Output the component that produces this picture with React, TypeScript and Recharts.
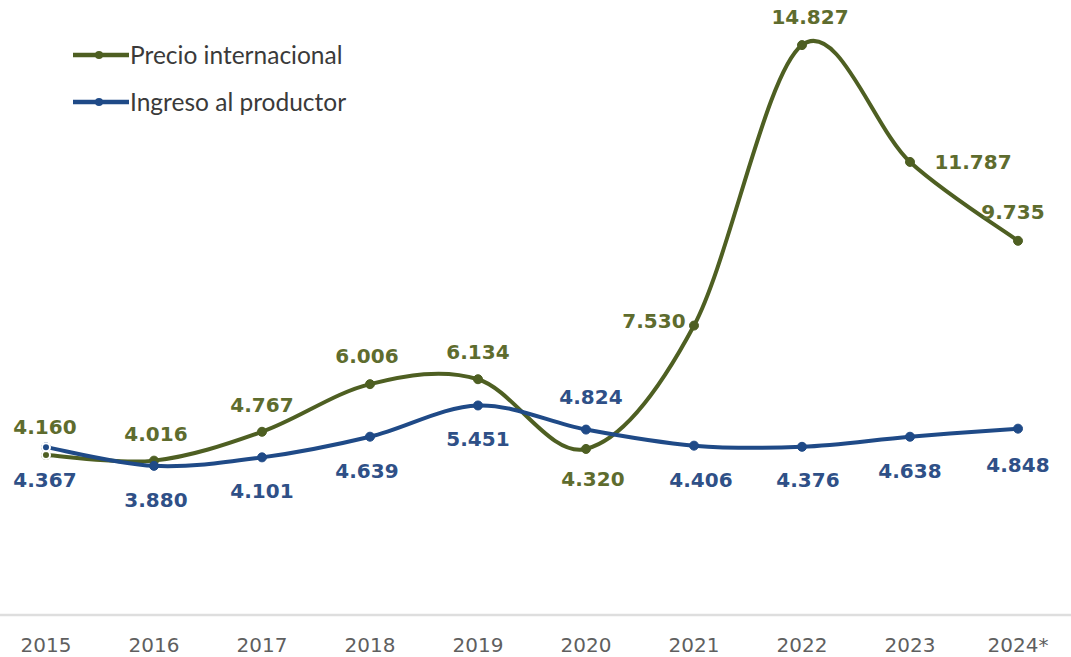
import React from "react";
import { LineChart, Line, XAxis, YAxis, LabelList, Legend } from "recharts";

const years = ["2015", "2016", "2017", "2018", "2019", "2020", "2021", "2022", "2023", "2024*"];
const precioInternacional = [4.16, 4.016, 4.767, 6.006, 6.134, 4.32, 7.53, 14.827, 11.787, 9.735];
const ingresoProductor = [4.367, 3.88, 4.101, 4.639, 5.451, 4.824, 4.406, 4.376, 4.638, 4.848];

const data = years.map((year, i) => ({
  year,
  precio: precioInternacional[i],
  ingreso: ingresoProductor[i],
}));

// label placement (dx, dy from the point), one per year
const precioLabelOffsets = [
  [-1, -28], [2, -27], [0, -27], [-3, -28], [0, -27],
  [7, 30], [-40, -5], [8, -28], [63, 0], [-5, -29],
];
const ingresoLabelOffsets = [
  [-1, 33], [2, 34], [0, 34], [-3, 34], [0, 34],
  [5, -33], [7, 34], [6, 33], [0, 34], [0, 36],
];

const GREEN = "#4e5f22";
const GREEN_TEXT = "#5e6c2e";
const BLUE = "#1f4a87";
const BLUE_TEXT = "#2f5087";

// Excel-like smoothed line (Catmull-Rom style bezier)
function smoothCurve(context: any) {
  let xs: number[] = [];
  let ys: number[] = [];
  return {
    areaStart() {},
    areaEnd() {},
    lineStart() {
      xs = [];
      ys = [];
    },
    point(x: number, y: number) {
      xs.push(+x);
      ys.push(+y);
    },
    lineEnd() {
      const n = xs.length;
      if (!n) return;
      const t = 1 / 6;
      context.moveTo(xs[0], ys[0]);
      for (let i = 0; i < n - 1; i++) {
        const a = Math.max(i - 1, 0);
        const d = Math.min(i + 2, n - 1);
        context.bezierCurveTo(
          xs[i] + (xs[i + 1] - xs[a]) * t,
          ys[i] + (ys[i + 1] - ys[a]) * t,
          xs[i + 1] - (xs[d] - xs[i]) * t,
          ys[i + 1] - (ys[d] - ys[i]) * t,
          xs[i + 1],
          ys[i + 1]
        );
      }
    },
  };
}

const fmt = (v: number) => v.toFixed(3);

const makeLabel = (offsets: number[][], color: string) => (props: any) => {
  const { x, y, value, index } = props;
  const [dx, dy] = offsets[index] || [0, -25];
  return (
    <text
      x={x + dx}
      y={y + dy}
      textAnchor="middle"
      dominantBaseline="central"
      fill={color}
      fontSize={20}
      fontWeight="bold"
      fontFamily="DejaVu Sans, Verdana, sans-serif"
    >
      {fmt(value)}
    </text>
  );
};

const legendItems = [
  { name: "Precio internacional", color: GREEN },
  { name: "Ingreso al productor", color: BLUE },
];

const renderLegend = () => (
  <div>
    {legendItems.map((item) => (
      <div key={item.name} style={{ display: "flex", alignItems: "center", height: 47 }}>
        <svg width={58} height={12}>
          <line x1={1} y1={6} x2={57} y2={6} stroke={item.color} strokeWidth={4.5} />
          <circle cx={27} cy={6} r={4} fill={item.color} />
        </svg>
        <span style={{ fontFamily: "Lato, sans-serif", fontSize: 24.5, color: "#3a3a3a", lineHeight: "26px" }}>
          {item.name}
        </span>
      </div>
    ))}
  </div>
);

export default function App() {
  return (
    <div style={{ position: "absolute", left: 0, top: 0, background: "#fff" }}>
      <LineChart width={1071} height={657} data={data} margin={{ top: 0, right: 0, bottom: 0, left: 0 }}>
        <XAxis
          dataKey="year"
          height={42}
          padding={{ left: 46, right: 53 }}
          axisLine={{ stroke: "#dedede", strokeWidth: 2.5 }}
          tickLine={false}
          tickSize={0}
          tickMargin={23}
          tick={{ fill: "#5f5f5f", fontSize: 20, fontFamily: "DejaVu Sans, Verdana, sans-serif" }}
          interval={0}
        />
        <YAxis hide domain={[0, 16]} />
        <Legend
          layout="horizontal"
          verticalAlign="middle"
          align="center"
          wrapperStyle={{ left: 72, top: 31, width: 360 }}
          content={renderLegend}
        />
        <Line
          type={smoothCurve as any}
          dataKey="precio"
          name="Precio internacional"
          stroke={GREEN}
          strokeWidth={4}
          dot={{ r: 4.5, fill: GREEN, stroke: GREEN, strokeWidth: 1, clipDot: false }}
          isAnimationActive={false}
        >
          <LabelList dataKey="precio" content={makeLabel(precioLabelOffsets, GREEN_TEXT)} />
        </Line>
        <Line
          type={smoothCurve as any}
          dataKey="ingreso"
          name="Ingreso al productor"
          stroke={BLUE}
          strokeWidth={4}
          dot={{ r: 4.5, fill: BLUE, stroke: BLUE, strokeWidth: 1, clipDot: false }}
          isAnimationActive={false}
        >
          <LabelList dataKey="ingreso" content={makeLabel(ingresoLabelOffsets, BLUE_TEXT)} />
        </Line>
      </LineChart>
    </div>
  );
}
